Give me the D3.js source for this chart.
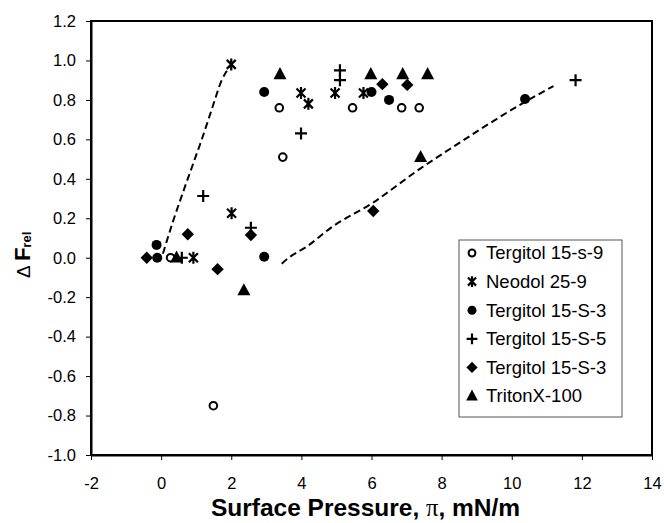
<!DOCTYPE html>
<html>
<head>
<meta charset="utf-8">
<script src="https://cdn.jsdelivr.net/npm/d3@7"></script>
<style>
    body { margin: 0; background: #fff; }
    svg { display: block; font-family: Arial, "Liberation Sans", sans-serif; }
    .tick text { font-size: 16.5px; fill: #000; }
    .tick line { stroke: #000; }
    .domain { stroke: #000; stroke-width: 2; }
    .trend { fill: none; stroke: #000; stroke-width: 2; stroke-dasharray: 7 4; }
</style>
</head>
<body>
<div id="chart"></div>
<script>
// DATA
const xTicks = [-2, 0, 2, 4, 6, 8, 10, 12, 14];
const yTicks = [-1.0, -0.8, -0.6, -0.4, -0.2, 0.0, 0.2, 0.4, 0.6, 0.8, 1.0, 1.2];

const seriesNames = ["Tergitol 15-s-9", "Neodol 25-9", "Tergitol 15-S-3", "Tergitol 15-S-5", "Tergitol 15-S-3", "TritonX-100"];
const seriesMarkers = ["openCircle", "star", "circle", "plus", "diamond", "triangle"];

const tergitol15s9 = [[3.37, 0.76], [3.47, 0.51], [5.46, 0.76], [6.86, 0.76], [7.36, 0.76], [0.27, 0.0], [1.49, -0.75]];
const neodol259 = [[2.0, 0.98], [3.99, 0.835], [4.2, 0.78], [4.96, 0.835], [5.77, 0.835], [2.01, 0.225], [0.92, 0.0]];
const tergitol15S3a = [[2.94, 0.84], [6.0, 0.84], [6.5, 0.80], [10.38, 0.805], [2.94, 0.005], [-0.13, 0.065], [-0.11, 0.0]];
const tergitol15S5 = [[5.1, 0.95], [5.1, 0.90], [3.99, 0.63], [1.2, 0.313], [2.56, 0.152], [0.59, 0.0], [11.82, 0.90]];
const tergitol15S3b = [[6.31, 0.88], [7.02, 0.876], [6.05, 0.237], [2.56, 0.115], [0.76, 0.119], [1.61, -0.058], [-0.41, 0.0]];
const tritonX100 = [[3.39, 0.93], [5.98, 0.93], [6.89, 0.93], [7.6, 0.93], [7.4, 0.51], [2.36, -0.165], [0.44, 0.0]];

const trendLeft = [[0.05, 0.02], [0.35, 0.19], [0.63, 0.335], [0.92, 0.48], [1.16, 0.60], [1.44, 0.75], [1.73, 0.90], [1.96, 0.97]];
const trendRight = [[3.44, -0.03], [3.68, 0.005], [4.15, 0.056], [4.82, 0.149], [6.05, 0.28], [7.4, 0.453], [8.14, 0.54], [10.38, 0.79], [11.19, 0.87]];

const allSeries = [tergitol15s9, neodol259, tergitol15S3a, tergitol15S5, tergitol15S3b, tritonX100];

// LAYOUT
const width = 664;
const height = 523;
const plot = {left: 91, right: 652, top: 21, bottom: 455};

// marker paths, s = half size
function markerPath(type, s) {
    switch (type) {
        case "diamond":
            return `M0,${-s}L${s},0L0,${s}L${-s},0Z`;
        case "triangle":
            return `M0,${-s * 1.1}L${s},${s * 0.75}L${-s},${s * 0.75}Z`;
        case "plus":
            return `M${-s},0H${s}M0,${-s}V${s}`;
        case "star": {
            const d = s * 0.75;
            return `M${-d},${-d}L${d},${d}M${-d},${d}L${d},${-d}M0,${-s}V${s}`;
        }
        default:
            return `M${s},0A${s},${s} 0 1 1 ${-s},0A${s},${s} 0 1 1 ${s},0Z`;
    }
}

function markerStyle(sel, type) {
    if (type === "openCircle") {
        sel.attr("fill", "none").attr("stroke", "#000").attr("stroke-width", 2);
    } else if (type === "plus" || type === "star") {
        sel.attr("fill", "none").attr("stroke", "#000").attr("stroke-width", 2.2);
    } else {
        sel.attr("fill", "#000").attr("stroke", "none");
    }
}

const markerSize = {openCircle: 3.8, star: 6, circle: 5, plus: 6, diamond: 6.2, triangle: 6.5};

// CHART SETUP
const xScale = d3.scaleLinear().domain([-2, 14]).range([plot.left, plot.right]);
const yScale = d3.scaleLinear().domain([-1, 1.2]).range([plot.bottom, plot.top]);

const svg = d3.select("#chart")
    .append("svg")
    .attr("width", width)
    .attr("height", height);

// plot frame
svg.append("rect")
    .attr("x", plot.left)
    .attr("y", plot.top)
    .attr("width", plot.right - plot.left)
    .attr("height", plot.bottom - plot.top)
    .attr("fill", "none")
    .attr("stroke", "#000")
    .attr("stroke-width", 2);

svg.append("g")
    .attr("transform", `translate(0, ${plot.bottom})`)
    .call(d3.axisBottom(xScale).tickValues(xTicks).tickSize(5).tickSizeOuter(0).tickPadding(17)
        .tickFormat(d3.format("d")));

svg.append("g")
    .attr("transform", `translate(${plot.left}, 0)`)
    .call(d3.axisLeft(yScale).tickValues(yTicks).tickSize(5).tickSizeOuter(0).tickPadding(10)
        .tickFormat(d3.format(".1f")));

svg.selectAll(".tick text").text(function() { return this.textContent.replace("−", "-"); });

// dashed trend lines
const line = d3.line()
    .x(d => xScale(d[0]))
    .y(d => yScale(d[1]))
    .curve(d3.curveMonotoneX);

svg.selectAll(".trend")
    .data([trendLeft, trendRight])
    .join("path")
    .classed("trend", true)
    .attr("d", line);

// points
allSeries.forEach((points, i) => {
    const type = seriesMarkers[i];
    svg.append("g")
        .selectAll("path")
        .data(points)
        .join("path")
        .attr("transform", d => `translate(${xScale(d[0])}, ${yScale(d[1])})`)
        .attr("d", markerPath(type, markerSize[type]))
        .call(markerStyle, type);
});

// legend
const legend = svg.append("g").attr("transform", "translate(459, 240)");

legend.append("rect")
    .attr("width", 163)
    .attr("height", 177)
    .attr("fill", "#fff")
    .attr("stroke", "#555")
    .attr("stroke-width", 1);

const rows = legend.selectAll(".row")
    .data(seriesNames)
    .join("g")
    .attr("transform", (d, i) => `translate(13, ${13 + i * 28.6})`);

rows.append("path")
    .attr("d", (d, i) => markerPath(seriesMarkers[i], markerSize[seriesMarkers[i]] * 0.9))
    .each(function(d, i) { d3.select(this).call(markerStyle, seriesMarkers[i]); });

rows.append("text")
    .attr("x", 14)
    .attr("dy", "0.35em")
    .attr("font-size", 18.5)
    .text(d => d);

// axis titles
const xTitle = svg.append("text")
    .attr("x", (plot.left + plot.right) / 2 - 6)
    .attr("y", 516)
    .attr("text-anchor", "middle")
    .attr("font-size", 24.5)
    .attr("font-weight", "bold");

xTitle.append("tspan").text("Surface Pressure, ");
xTitle.append("tspan").attr("font-family", "'Liberation Serif', 'Times New Roman', serif").attr("font-weight", "normal").text("π");
xTitle.append("tspan").text(", mN/m");

const yTitle = svg.append("text")
    .attr("transform", "translate(30, 278) rotate(-90)")
    .attr("font-weight", "bold");

yTitle.append("tspan").attr("font-size", 19).attr("font-weight", "normal").text("Δ ");
yTitle.append("tspan").attr("font-size", 22).text("F");
yTitle.append("tspan").attr("font-size", 13).attr("dy", 1).text("rel");
</script>
</body>
</html>
